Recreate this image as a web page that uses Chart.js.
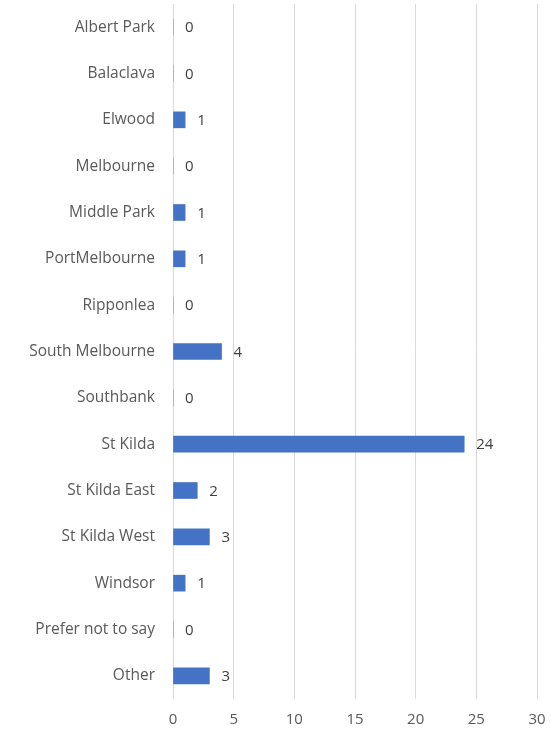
<!DOCTYPE html>
<html>
<head>
<meta charset="utf-8">
<script src="https://cdn.jsdelivr.net/npm/chart.js@4.4.1/dist/chart.umd.min.js"></script>
<style>
  html, body { margin: 0; padding: 0; background: #FFFFFF; }
  #wrap { width: 551px; height: 737px; position: relative; }
</style>
</head>
<body>
<div id="wrap"><canvas id="suburbChart"></canvas></div>
<script>
const FONT_COLOR = '#595959';
const GRID_COLOR = '#D9D9D9';
const BAR_COLOR = '#4472C4';
const FONT_FAMILY = "'Open Sans', 'Noto Sans', sans-serif";

const suburbs = ['Albert Park', 'Balaclava', 'Elwood', 'Melbourne', 'Middle Park', 'PortMelbourne', 'Ripponlea',
    'South Melbourne', 'Southbank', 'St Kilda', 'St Kilda East', 'St Kilda West', 'Windsor', 'Prefer not to say', 'Other'];
const counts = [0, 0, 1, 0, 1, 1, 0, 4, 0, 24, 2, 3, 1, 0, 3];
const xTicks = [0, 5, 10, 15, 20, 25, 30];

// value labels next to each bar end
const barValueLabels = {
    id: 'barValueLabels',
    afterDatasetsDraw(chart) {
        const ctx = chart.ctx;
        const meta = chart.getDatasetMeta(0);
        ctx.save();
        ctx.fillStyle = '#404040';
        ctx.font = '15px ' + FONT_FAMILY;
        ctx.textAlign = 'left';
        ctx.textBaseline = 'middle';
        meta.data.forEach((bar, i) => {
            ctx.fillText(String(counts[i]), bar.x + 12, bar.y + 1);
        });
        ctx.restore();
    }
};

new Chart(document.getElementById('suburbChart'), {
    type: 'bar',
    data: {
        labels: suburbs,
        datasets: [{
            data: counts,
            backgroundColor: BAR_COLOR,
            borderWidth: 0,
            barThickness: 16
        }]
    },
    options: {
        indexAxis: 'y',
        responsive: true,
        maintainAspectRatio: false,
        animation: false,
        layout: { padding: { top: 4, right: 14, bottom: 0, left: 0 } },
        scales: {
            x: {
                min: 0,
                max: 30,
                afterBuildTicks: axis => { axis.ticks = xTicks.map(v => ({ value: v })); },
                grid: { color: GRID_COLOR, drawTicks: false },
                border: { display: false },
                ticks: { color: FONT_COLOR, font: { size: 15, family: FONT_FAMILY }, padding: 12 },
                afterFit: axis => { axis.height = 38; axis.paddingLeft = 0; axis.paddingRight = 0; }
            },
            y: {
                grid: { display: false, drawTicks: false },
                border: { display: false },
                ticks: { color: FONT_COLOR, font: { size: 15.5, family: FONT_FAMILY }, padding: 18 },
                afterFit: axis => { axis.width = 173; axis.paddingTop = 0; axis.paddingBottom = 0; }
            }
        },
        plugins: {
            legend: { display: false },
            title: { display: false },
            tooltip: { enabled: false }
        }
    },
    plugins: [barValueLabels]
});
</script>
</body>
</html>
